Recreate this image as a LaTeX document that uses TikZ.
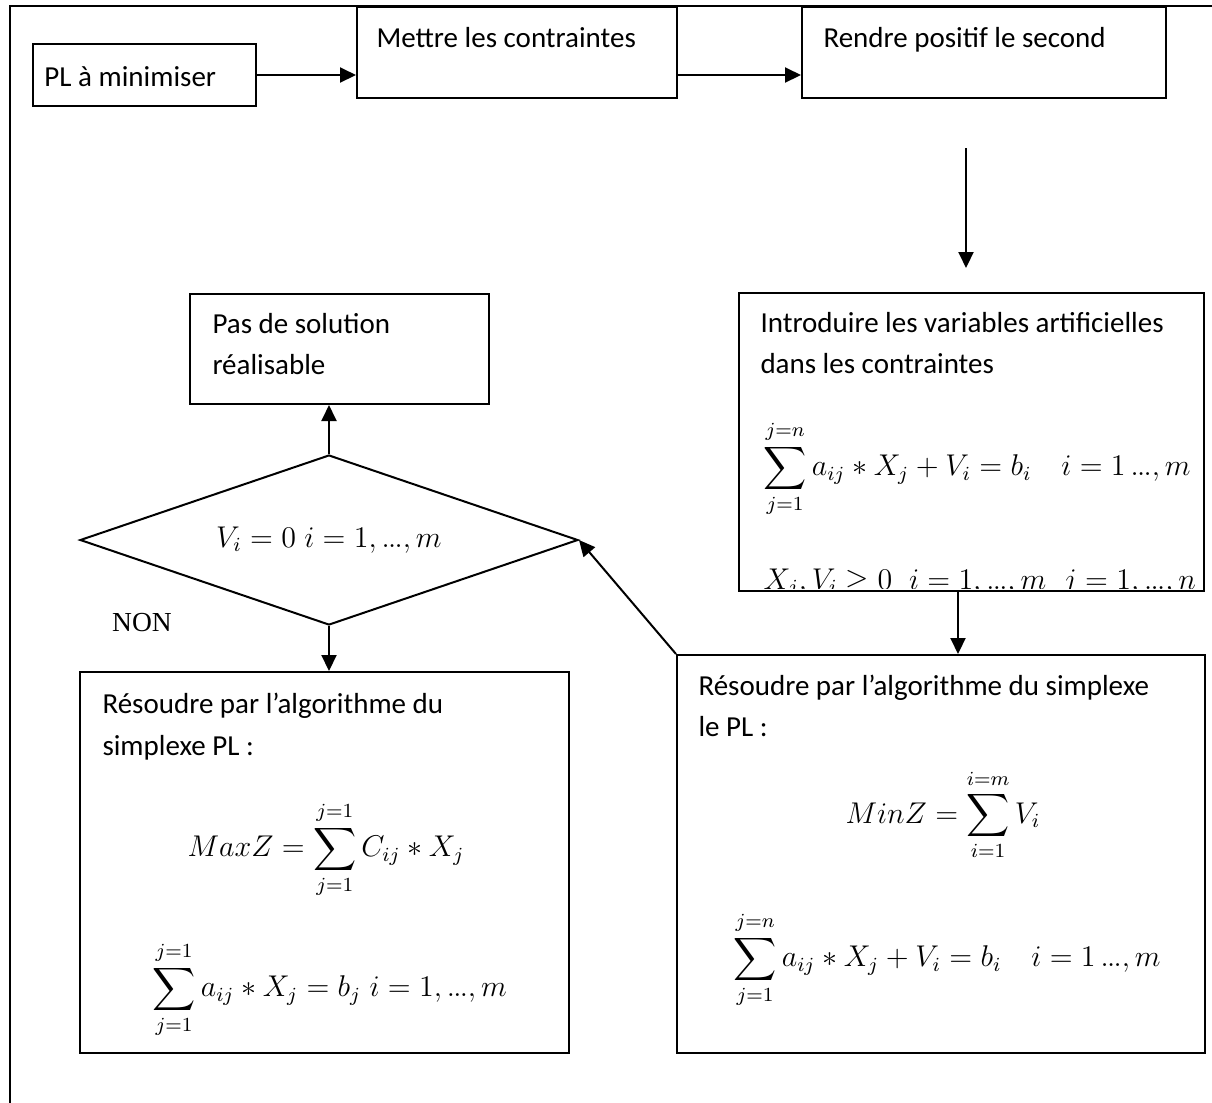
\RequirePackage{fix-cm}
\documentclass[tikz,border=0pt]{standalone}
\usepackage{amsmath}
\usepackage{fontspec}
\setmainfont{Carlito}
\newfontfamily\timesfont{Liberation Serif}
\usetikzlibrary{arrows.meta,fit,shapes.geometric}
\newcommand{\mydots}{\mathord{.\mkern-1mu.\mkern-1mu.}}
\begin{document}
\begin{tikzpicture}[x=0.4pt,y=-0.4pt,
  box/.style={draw, line width=0.8pt, inner sep=0pt, rectangle},
  txt/.style={inner sep=0pt, anchor=base west, font=\fontsize{11.6}{14}\selectfont},
  mth/.style={inner sep=0pt, font=\fontsize{12}{15}\selectfont},
  arr/.style={line width=0.8pt, -{Triangle[length=6.4pt,width=6pt]}},
  frameline/.style={line width=0.8pt}]
\useasboundingbox (0,0) rectangle (1212,1102);

% outer frame (left and top sides visible)
\coordinate (f1) at (10,1115);
\coordinate (f2) at (10,6);
\coordinate (f3) at (1225,6);
\draw[frameline] (f1) -- (f2) -- (f3);

% boxes
\node[box, fit={(33,44)(256,106)}] (pl) {};
\node[box, fit={(357,7)(677,98)}] (mettre) {};
\node[box, fit={(802,7)(1166,98)}] (rendre) {};
\node[box, fit={(190,294)(489,404)}] (pas) {};
\node[box, fit={(80,672)(569,1053)}] (res1) {};
\node[box, fit={(677,655)(1205,1053)}] (res2) {};

% decision diamond
\node[draw, line width=0.8pt, diamond, aspect=2.93, inner sep=0pt,
      minimum width=199.2pt, minimum height=68pt,
      font=\fontsize{12}{15}\selectfont] (dec) at (329,540)
      {$V_i = 0\; i = 1, \mydots, m$};

% texts
\node[txt] (pl-t) at (44,86) {PL à minimiser};
\node[txt] (mettre-t) at (376,47) {Mettre les contraintes};
\node[txt] (rendre-t) at (823,47) {Rendre positif le second};
\node[txt] (pas-t1) at (212,333) {Pas de solution};
\node[txt] (pas-t2) at (212,374) {réalisable};
\node[txt] (intro-t1) at (760,332) {Introduire les variables artificielles};
\node[txt] (intro-t2) at (760,373) {dans les contraintes};
\node[txt] (res1-t1) at (102,713) {Résoudre par l’algorithme du};
\node[txt] (res1-t2) at (102,755) {simplexe PL :};
\node[txt] (res2-t1) at (698,695) {Résoudre par l’algorithme du simplexe};
\node[txt] (res2-t2) at (698,736) {le PL :};
\node[font=\timesfont\fontsize{11}{13}\selectfont, inner sep=0pt] (non) at (142,623) {NON};

% formulas
\node[mth, anchor=west] (intro-m1) at (763,469)
  {$\displaystyle\sum_{j=1}^{j=n} a_{ij} * X_j + V_i = b_i \quad i = 1\, \mydots, m$};
\begin{scope}
  \clip (739,293) rectangle (1204,588);
  \node[mth, anchor=base west] (intro-m2) at (763,589)
    {$X_j, V_i \geq 0\;\; i = 1, \mydots, m\;\; j = 1, \mydots, n$};
\end{scope}
\node[box, fit={(739,293)(1204,591)}] (intro) {};

\node[mth] (res2-m1) at (943,815)
  {$\displaystyle MinZ = \sum_{i=1}^{i=m} V_i$};
\node[mth, anchor=west] (res2-m2) at (733,960)
  {$\displaystyle\sum_{j=1}^{j=n} a_{ij} * X_j + V_i = b_i \quad i = 1\, \mydots, m$};
\node[mth] (res1-m1) at (326,850)
  {$\displaystyle MaxZ = \sum_{j=1}^{j=1} C_{ij} * X_j$};
\node[mth, anchor=west] (res1-m2) at (152,990)
  {$\displaystyle\sum_{j=1}^{j=1} a_{ij} * X_j = b_j \; i = 1, \mydots, m$};

% connectors
\draw[arr] (pl.east) -- (pl.east -| mettre.west);
\draw[arr] (mettre.east |- pl.east) -- (rendre.west |- pl.east);
\coordinate (d1) at (966,148);
\coordinate (d2) at (966,268);
\draw[arr] (d1) -- (d2);
\coordinate (a3) at (958,0);
\draw[arr] (intro.south -| a3) -- (res2.north -| a3);
\draw[arr] (res2.north west) -- (dec.east);
\draw[arr] (dec.north) -- (dec.north |- pas.south);
\draw[arr] (dec.south) -- (dec.south |- res1.north);
\end{tikzpicture}
\end{document}
